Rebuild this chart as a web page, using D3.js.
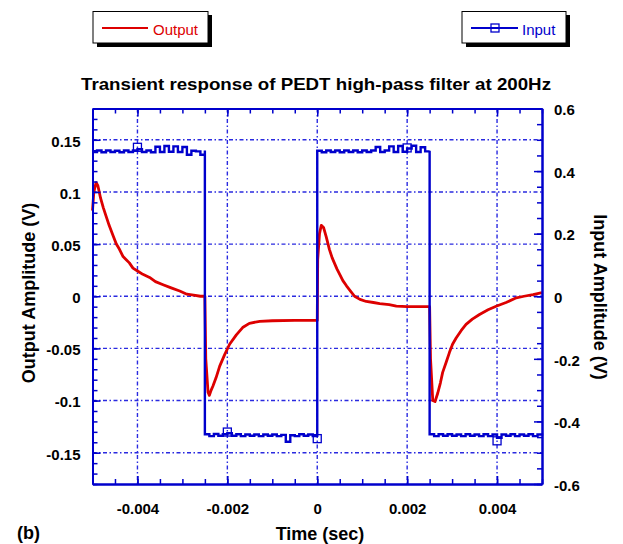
<!DOCTYPE html>
<html>
<head>
<meta charset="utf-8">
<title>Transient response</title>
<script src="https://cdn.jsdelivr.net/npm/d3@7/dist/d3.min.js"></script>
<style>
  body { margin: 0; background: #fff; }
  text { font-family: "Liberation Sans", Arial, sans-serif; }
</style>
</head>
<body>
<script>
// ---- data ----
var leftTicks = [-0.15, -0.1, -0.05, 0, 0.05, 0.1, 0.15];
var rightTicks = [-0.6, -0.4, -0.2, 0, 0.2, 0.4, 0.6];
var timeTicks = [-0.004, -0.002, 0, 0.002, 0.004];

// output (red, left axis)
var outputTime = [
  -0.00500, -0.00497, -0.00492, -0.00488, -0.00482, -0.00476, -0.00470, -0.00463, -0.00455, -0.00447,
  -0.00440, -0.00432, -0.00425, -0.00418, -0.00410, -0.00399, -0.00388, -0.00373, -0.00360, -0.00343,
  -0.00325, -0.00306, -0.00290, -0.00275, -0.00260, -0.00250,
  -0.00248, -0.00243, -0.00240, -0.00236, -0.00232, -0.00225, -0.00217, -0.00206, -0.00195, -0.00180,
  -0.00166, -0.00151, -0.00128, -0.00100, -0.00050, 0.00000,
  0.00001, 0.00005, 0.00009, 0.00014, 0.00020, 0.00027, 0.00033, 0.00038, 0.00044, 0.00050,
  0.00057, 0.00065, 0.00074, 0.00083, 0.00095, 0.00109, 0.00125, 0.00139, 0.00160, 0.00176,
  0.00200, 0.00225, 0.00250,
  0.00252, 0.00257, 0.00262, 0.00268, 0.00274, 0.00279, 0.00287, 0.00294, 0.00301, 0.00309,
  0.00320, 0.00331, 0.00345, 0.00361, 0.00380, 0.00398, 0.00420, 0.00443, 0.00460, 0.00480, 0.00500
];
var outputValue = [
  0.082, 0.100, 0.109, 0.106, 0.094, 0.085, 0.077, 0.068, 0.059, 0.050,
  0.045, 0.038, 0.035, 0.032, 0.027, 0.024, 0.021, 0.018, 0.014, 0.011,
  0.008, 0.005, 0.002, 0.001, 0.000, 0.000,
  -0.060, -0.092, -0.095, -0.090, -0.086, -0.078, -0.067, -0.056, -0.046, -0.037,
  -0.030, -0.026, -0.024, -0.0235, -0.0232, -0.0232,
  0.035, 0.060, 0.068, 0.066, 0.057, 0.045, 0.037, 0.032, 0.026, 0.021,
  0.015, 0.010, 0.005, 0.000, -0.003, -0.005, -0.006, -0.007, -0.008, -0.0095,
  -0.010, -0.010, -0.010,
  -0.060, -0.100, -0.101, -0.093, -0.083, -0.073, -0.063, -0.054, -0.046, -0.040,
  -0.033, -0.027, -0.022, -0.0175, -0.013, -0.0096, -0.006, -0.0015, 0.000, 0.0016, 0.0035
];

// input (blue, right axis)
var inputTime = [
  -0.0050, -0.0049, -0.0048, -0.0047, -0.0046, -0.0045, -0.0044, -0.0043, -0.0042, -0.0041,
  -0.0040, -0.0039, -0.0038, -0.0037, -0.0036, -0.0035, -0.0034, -0.0033, -0.0032, -0.0031,
  -0.0030, -0.0029, -0.0028, -0.0027, -0.0026, -0.0025,
  -0.0025, -0.0024, -0.0023, -0.0022, -0.0021, -0.0020, -0.0019, -0.0018, -0.0017, -0.0016,
  -0.0015, -0.0014, -0.0013, -0.0012, -0.0011, -0.0010, -0.0009, -0.0008, -0.0007, -0.0006,
  -0.0005, -0.0004, -0.0003, -0.0002, -0.0001, 0.0000,
  0.0000, 0.0001, 0.0002, 0.0003, 0.0004, 0.0005, 0.0006, 0.0007, 0.0008, 0.0009,
  0.0010, 0.0011, 0.0012, 0.0013, 0.0014, 0.0015, 0.0016, 0.0017, 0.0018, 0.0019,
  0.0020, 0.0021, 0.0022, 0.0023, 0.0024, 0.0025,
  0.0025, 0.0026, 0.0027, 0.0028, 0.0029, 0.0030, 0.0031, 0.0032, 0.0033, 0.0034,
  0.0035, 0.0036, 0.0037, 0.0038, 0.0039, 0.0040, 0.0041, 0.0042, 0.0043, 0.0044,
  0.0045, 0.0046, 0.0047, 0.0048, 0.0049, 0.0050
];
var inputValue = [
  0.461, 0.466, 0.460, 0.466, 0.461, 0.465, 0.460, 0.466, 0.461, 0.466,
  0.470, 0.461, 0.466, 0.460, 0.478, 0.461, 0.480, 0.462, 0.479, 0.461,
  0.477, 0.452, 0.465, 0.463, 0.452, 0.466,
  -0.441, -0.447, -0.440, -0.446, -0.441, -0.438, -0.446, -0.441, -0.447, -0.442,
  -0.446, -0.442, -0.447, -0.442, -0.446, -0.442, -0.447, -0.443, -0.465, -0.444,
  -0.447, -0.441, -0.446, -0.442, -0.447, -0.450,
  0.465, 0.460, 0.466, 0.461, 0.466, 0.460, 0.466, 0.461, 0.466, 0.460,
  0.466, 0.461, 0.466, 0.477, 0.461, 0.466, 0.479, 0.461, 0.480, 0.462,
  0.472, 0.481, 0.461, 0.476, 0.463, 0.465,
  -0.441, -0.447, -0.441, -0.446, -0.441, -0.446, -0.442, -0.447, -0.441, -0.446,
  -0.442, -0.447, -0.441, -0.447, -0.442, -0.452, -0.442, -0.446, -0.441, -0.447,
  -0.442, -0.446, -0.441, -0.447, -0.442, -0.446
];
var markerTime = [-0.004, -0.002, 0, 0.002, 0.004];
var markerValue = [0.476, -0.434, -0.455, 0.474, -0.462];

// ---- layout ----
var width = 623, height = 544;
var plotL = 92.5, plotR = 542, plotT = 108.5, plotB = 484;
var blue = "#0000cc", gridBlue = "#2a2ae0", red = "#dd0000";

var x = d3.scaleLinear().domain([-0.005, 0.005]).range([plotL, plotR]);
var yL = d3.scaleLinear().domain([-0.18, 0.18]).range([plotB, plotT]);
var yR = d3.scaleLinear().domain([-0.6, 0.6]).range([plotB, plotT]);

var fmt = function (d) { return d === 0 ? "0" : String(+d.toFixed(4)); };

var svg = d3.select("body").append("svg")
  .attr("width", width)
  .attr("height", height);
svg.append("rect").attr("width", width).attr("height", height).attr("fill", "#fff");

// gridlines
var grid = svg.append("g")
  .attr("stroke", gridBlue)
  .attr("stroke-width", 1.4)
  .attr("stroke-dasharray", "4,2.5,1.5,2.5");
grid.selectAll("line.h").data(leftTicks).enter().append("line")
  .attr("x1", plotL).attr("x2", plotR)
  .attr("y1", function (d) { return yL(d); })
  .attr("y2", function (d) { return yL(d); });
grid.selectAll("line.v").data(timeTicks).enter().append("line")
  .attr("y1", plotT).attr("y2", plotB)
  .attr("x1", function (d) { return x(d); })
  .attr("x2", function (d) { return x(d); });

// series
var outPts = outputTime.map(function (t, i) { return [t, outputValue[i]]; });
var inPts = inputTime.map(function (t, i) { return [t, inputValue[i]]; });

svg.append("path")
  .datum(outPts)
  .attr("fill", "none")
  .attr("stroke", red)
  .attr("stroke-width", 2.8)
  .attr("stroke-linejoin", "round")
  .attr("d", d3.line().x(function (d) { return x(d[0]); }).y(function (d) { return yL(d[1]); }));

svg.append("path")
  .datum(inPts)
  .attr("fill", "none")
  .attr("stroke", blue)
  .attr("stroke-width", 2.4)
  .attr("d", d3.line().curve(d3.curveStepAfter)
    .x(function (d) { return x(d[0]); }).y(function (d) { return yR(d[1]); }));

svg.selectAll("rect.marker").data(markerTime).enter().append("rect")
  .attr("class", "marker")
  .attr("x", function (d) { return x(d) - 4; })
  .attr("y", function (d, i) { return yR(markerValue[i]) - 4; })
  .attr("width", 8).attr("height", 8)
  .attr("fill", "none")
  .attr("stroke", blue)
  .attr("stroke-width", 1.3);

// axes
function styleAxis(g) {
  g.select(".domain").attr("stroke", blue).attr("stroke-width", 2);
  g.selectAll(".tick line").attr("stroke", blue).attr("stroke-width", 1.5);
  g.selectAll("text")
    .attr("fill", "#000")
    .style("font-size", "15px")
    .style("font-weight", "bold")
    .style("font-family", "'Liberation Sans', Arial, sans-serif");
}
var minorL = d3.range(-18, 19).map(function (i) { return i / 100; });
var minorR = d3.range(-12, 13).map(function (i) { return i / 20; });
var minorX = d3.range(-10, 11).map(function (i) { return i / 2000; });

svg.append("g").attr("transform", "translate(" + plotL + ",0)")
  .call(d3.axisLeft(yL).tickValues(minorL).tickSize(-5).tickFormat("").tickSizeOuter(0)).call(styleAxis);
svg.append("g").attr("transform", "translate(" + plotL + ",0)")
  .call(d3.axisLeft(yL).tickValues(leftTicks).tickSize(-8).tickSizeOuter(0).tickPadding(12).tickFormat(fmt))
  .call(styleAxis)
  .selectAll("text").attr("dy", "0.42em");

svg.append("g").attr("transform", "translate(" + plotR + ",0)")
  .call(d3.axisRight(yR).tickValues(minorR).tickSize(-5).tickFormat("").tickSizeOuter(0)).call(styleAxis);
svg.append("g").attr("transform", "translate(" + plotR + ",0)")
  .call(d3.axisRight(yR).tickValues(rightTicks).tickSize(-8).tickSizeOuter(0).tickPadding(12).tickFormat(fmt))
  .call(styleAxis)
  .selectAll("text").attr("dy", "0.42em");

svg.append("g").attr("transform", "translate(0," + plotB + ")")
  .call(d3.axisBottom(x).tickValues(minorX).tickSize(-5).tickFormat("").tickSizeOuter(0)).call(styleAxis);
svg.append("g").attr("transform", "translate(0," + plotB + ")")
  .call(d3.axisBottom(x).tickValues(timeTicks).tickSize(-8).tickSizeOuter(0).tickPadding(19).tickFormat(fmt))
  .call(styleAxis);

svg.append("g").attr("transform", "translate(0," + plotT + ")")
  .call(d3.axisTop(x).tickValues(minorX).tickSize(-5).tickFormat("").tickSizeOuter(0)).call(styleAxis);
svg.append("g").attr("transform", "translate(0," + plotT + ")")
  .call(d3.axisTop(x).tickValues(timeTicks).tickSize(-8).tickSizeOuter(0).tickFormat(""))
  .call(styleAxis);

// titles
svg.append("text")
  .attr("x", 316).attr("y", 90)
  .attr("text-anchor", "middle")
  .attr("textLength", 470).attr("lengthAdjust", "spacingAndGlyphs")
  .style("font-size", "17px").style("font-weight", "bold")
  .text("Transient response of PEDT high-pass filter at 200Hz");

svg.append("text")
  .attr("transform", "translate(35,293) rotate(-90)")
  .attr("text-anchor", "middle")
  .style("font-size", "18px").style("font-weight", "bold")
  .text("Output Amplitude (V)");

svg.append("text")
  .attr("transform", "translate(594,297) rotate(90)")
  .attr("text-anchor", "middle")
  .style("font-size", "18px").style("font-weight", "bold")
  .text("Input Amplitude (V)");

svg.append("text")
  .attr("x", 320).attr("y", 540)
  .attr("text-anchor", "middle")
  .style("font-size", "18px").style("font-weight", "bold")
  .text("Time (sec)");

svg.append("text")
  .attr("x", 17).attr("y", 539)
  .style("font-size", "18px").style("font-weight", "bold")
  .text("(b)");

// legends
function legendBox(x0, w) {
  svg.append("rect").attr("x", x0 + 4).attr("y", 15).attr("width", w).attr("height", 32).attr("fill", "#000");
  svg.append("rect").attr("x", x0).attr("y", 11.5).attr("width", w).attr("height", 31.5)
    .attr("fill", "#fff").attr("stroke", "#000").attr("stroke-width", 1);
}
legendBox(93, 115);
svg.append("line").attr("x1", 102).attr("x2", 148).attr("y1", 28).attr("y2", 28)
  .attr("stroke", red).attr("stroke-width", 2.2);
svg.append("text").attr("x", 153).attr("y", 35).attr("fill", red)
  .style("font-size", "15px").text("Output");

legendBox(462, 104);
svg.append("line").attr("x1", 471).attr("x2", 518).attr("y1", 28).attr("y2", 28)
  .attr("stroke", blue).attr("stroke-width", 2);
svg.append("rect").attr("x", 491).attr("y", 24).attr("width", 8).attr("height", 8)
  .attr("fill", "none").attr("stroke", blue).attr("stroke-width", 1.3);
svg.append("text").attr("x", 522).attr("y", 35).attr("fill", blue)
  .style("font-size", "15px").text("Input");
</script>
</body>
</html>
